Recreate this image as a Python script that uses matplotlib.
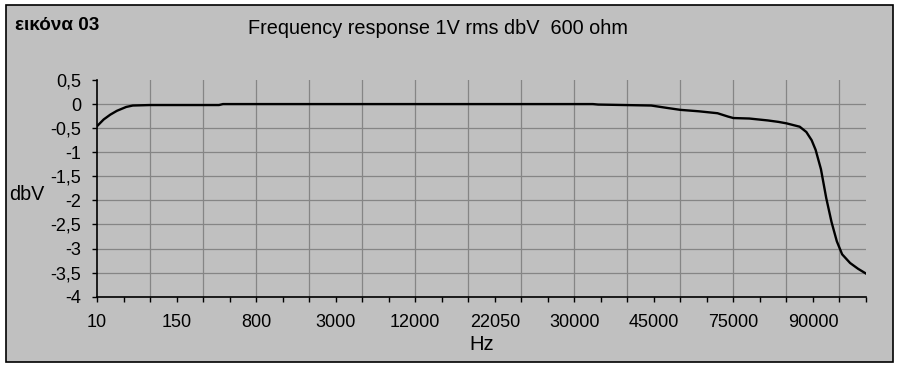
import matplotlib
matplotlib.use("Agg")
import matplotlib.pyplot as plt
from matplotlib.patches import Rectangle

plt.rcParams['font.family'] = ['Liberation Sans', 'DejaVu Sans']

# category labels shown on the x axis (every 3rd category tick)
freq_labels = ["10", "150", "800", "3000", "12000", "22050", "30000", "45000", "75000", "90000"]
n_ticks = 30  # category tick positions 0..29

# measured curve: position along the category axis and level in dbV
pos = [0.0, 0.25, 0.5, 0.75, 1.1, 1.35, 2.0, 4.6, 4.75, 18.7, 18.9, 20.9,
       21.5, 22.0, 22.7, 23.4, 23.8, 24.0, 24.6, 25.3, 25.7, 26.0, 26.5,
       26.75, 26.95, 27.1, 27.3, 27.5, 27.7, 27.9, 28.1, 28.4, 28.7, 29.0]
dbv = [-0.46, -0.32, -0.22, -0.14, -0.06, -0.03, -0.02, -0.02, 0.0, 0.0, -0.01, -0.03,
       -0.08, -0.12, -0.15, -0.19, -0.26, -0.29, -0.30, -0.34, -0.37, -0.40, -0.47,
       -0.58, -0.75, -0.95, -1.35, -1.95, -2.45, -2.85, -3.12, -3.30, -3.42, -3.52]

fig = plt.figure(figsize=(9, 3.68), dpi=100, facecolor="white")

# grey chart area with black border
fig.patches.append(Rectangle((6 / 900, 1 - 362 / 368), 887 / 900, 357 / 368,
                             transform=fig.transFigure, facecolor="#c0c0c0",
                             edgecolor="black", linewidth=1.2, zorder=-10))

ax = fig.add_axes([97 / 900, 1 - 296.7 / 368, 769 / 900, 216.7 / 368])
ax.patch.set_alpha(0)

ax.plot(pos, dbv, color="black", linewidth=1.7, zorder=3)

ax.set_xlim(0, n_ticks - 1)
ax.set_ylim(-4, 0.5)

# gridlines like the excel chart
for v in [x * 0.5 for x in range(-8, 1)]:
    ax.axhline(v, color="#858585", linewidth=0.9, zorder=1)
for t in range(2, n_ticks - 1, 2):
    ax.axvline(t, color="#858585", linewidth=0.9, zorder=1)

xt_labels = [""] * n_ticks
for i, lab in enumerate(freq_labels):
    xt_labels[i * 3] = lab
ax.set_xticks(range(n_ticks))
ax.set_xticklabels(xt_labels, fontsize=13)

yt = [x * 0.5 for x in range(-8, 2)]
ax.set_yticks(yt)
ax.set_yticklabels([("%g" % v).replace(".", ",") for v in yt], fontsize=13)

ax.tick_params(axis="both", direction="out", length=3.8, width=1, color="black")
ax.tick_params(axis="x", pad=9)
ax.tick_params(axis="y", pad=7.5)
for side in ["top", "right"]:
    ax.spines[side].set_visible(False)
for side in ["left", "bottom"]:
    ax.spines[side].set_color("black")
    ax.spines[side].set_linewidth(1.2)

fig.text(15 / 900, 1 - 25 / 368, "εικόνα 03", fontsize=13.6, fontweight="bold",
         ha="left", va="center")
fig.text(438 / 900, 1 - 29 / 368, "Frequency response 1V rms dbV  600 ohm",
         fontsize=14.3, ha="center", va="center")
fig.text(9 / 900, 1 - 195 / 368, "dbV", fontsize=14.2, ha="left", va="center")
fig.text(482 / 900, 1 - 345 / 368, "Hz", fontsize=14.5, ha="center", va="center")

fig.savefig("out.png", dpi=100, facecolor="white")
